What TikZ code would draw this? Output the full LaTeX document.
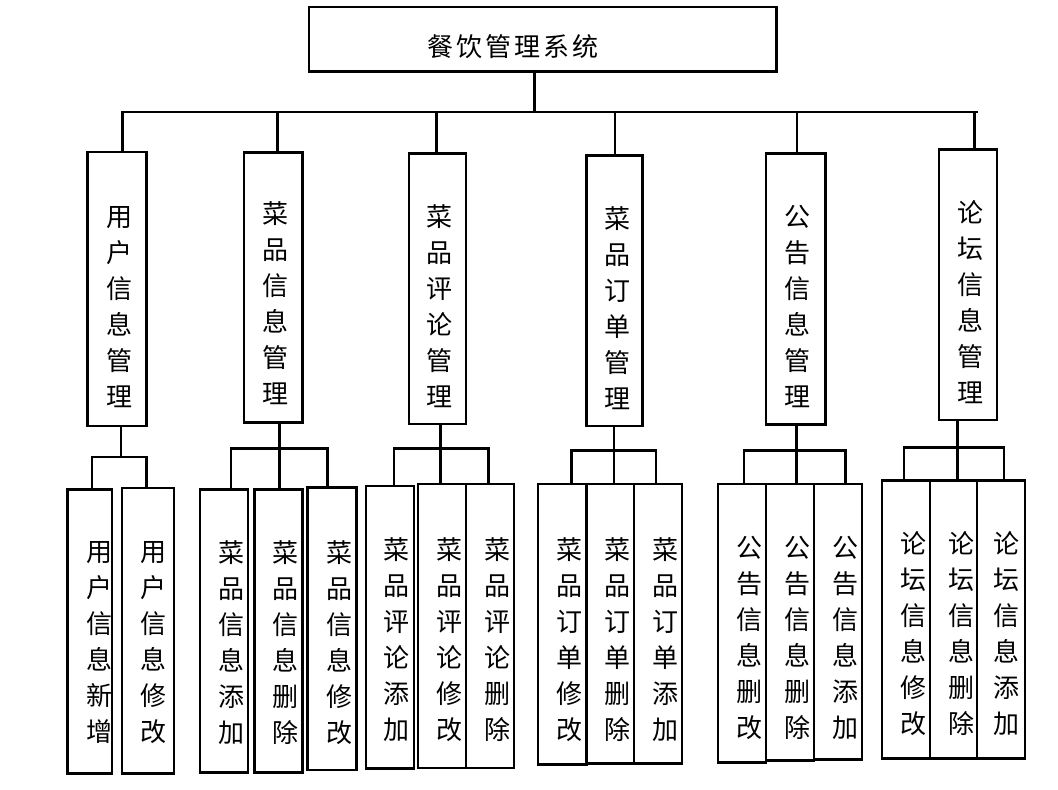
\documentclass[tikz,border=0pt]{standalone}
\usepackage{fontspec}
\newfontfamily\cjk{Noto Sans CJK SC}
\begin{document}
\begin{tikzpicture}[x=1pt,y=-1pt,
  box/.style={draw=black,line width=2.6pt,inner sep=0pt,fill=none},
  vtext/.style={align=center,inner sep=0pt,font={\cjk\fontsize{26}{36}\selectfont}},
  ttext/.style={inner sep=0pt,font={\cjk\fontsize{26}{30}\selectfont}},
  conn/.style={line width=2.6pt,line cap=rect}]
\useasboundingbox (0,0) rectangle (1058,790);
% top
\node[box,minimum width=467.5pt,minimum height=64.5pt] (top) at (542.7,39.2) {};
\node[ttext] (ttl) at (513,47) {餐\kern3pt 饮\kern3pt 管\kern3pt 理\kern3pt 系\kern3pt 统};
% level 2 boxes
\node[box,minimum width=59.4pt,minimum height=274pt] (n1) at (117,289) {};
\node[box,minimum width=58.7pt,minimum height=270pt] (n2) at (273.4,287.7) {};
\node[box,minimum width=57pt,minimum height=270.3pt] (n3) at (437.5,288.9) {};
\node[box,minimum width=55.6pt,minimum height=270.3pt] (n4) at (614.5,290.9) {};
\node[box,minimum width=59.7pt,minimum height=271pt] (n5) at (795.9,289.2) {};
\node[box,minimum width=58pt,minimum height=270.7pt] (n6) at (968,284.7) {};
\node[vtext] (t1) at (119.3,306.7) {用\\户\\信\\息\\管\\理};
\node[vtext] (t2) at (275,303.3) {菜\\品\\信\\息\\管\\理};
\node[vtext] (t3) at (439.3,306.2) {菜\\品\\评\\论\\管\\理};
\node[vtext] (t4) at (617.3,308) {菜\\品\\订\\单\\管\\理};
\node[vtext] (t5) at (797.3,306.7) {公\\告\\信\\息\\管\\理};
\node[vtext] (t6) at (970,301.7) {论\\坛\\信\\息\\管\\理};
% leaf boxes
\node[box,minimum width=44.7pt,minimum height=284pt] (a) at (89.7,631.3) {};
\node[box,minimum width=52pt,minimum height=285.3pt] (b) at (148,630.7) {};
\node[box,minimum width=48pt,minimum height=283pt] (c) at (224,630.8) {};
\node[box,minimum width=48pt,minimum height=283pt] (d) at (278.7,630.8) {};
\node[box,minimum width=49pt,minimum height=282.7pt] (e) at (332.2,628.7) {};
\node[box,minimum width=48pt,minimum height=282.7pt] (f) at (390,627.3) {};
\node[box,minimum width=48pt,minimum height=284pt] (g) at (442,626) {};
\node[box,minimum width=48pt,minimum height=284pt] (h) at (490,626) {};
\node[box,minimum width=48.3pt,minimum height=280.7pt] (i) at (562.2,624.3) {};
\node[box,minimum width=47.7pt,minimum height=279.3pt] (j) at (610.2,623.7) {};
\node[box,minimum width=48pt,minimum height=279.3pt] (k) at (658,623.7) {};
\node[box,minimum width=48pt,minimum height=278.7pt] (l) at (742,623.3) {};
\node[box,minimum width=48pt,minimum height=276.7pt] (m) at (790,622.3) {};
\node[box,minimum width=48pt,minimum height=275.3pt] (n) at (838,621.7) {};
\node[box,minimum width=48pt,minimum height=278pt] (o) at (906,619.7) {};
\node[box,minimum width=47pt,minimum height=278pt] (p) at (953.5,619.7) {};
\node[box,minimum width=48pt,minimum height=278pt] (q) at (1001,619.7) {};
% leaf texts
\node[vtext] (ta) at (99.3,642.4) {用\\户\\信\\息\\新\\增};
\node[vtext] (tb) at (153.3,642.4) {用\\户\\信\\息\\修\\改};
\node[vtext] (tc) at (231.7,642.4) {菜\\品\\信\\息\\添\\加};
\node[vtext] (td) at (285,642.4) {菜\\品\\信\\息\\删\\除};
\node[vtext] (te) at (339.3,642.4) {菜\\品\\信\\息\\修\\改};
\node[vtext] (tf) at (396.7,639.7) {菜\\品\\评\\论\\添\\加};
\node[vtext] (tg) at (449.3,639.7) {菜\\品\\评\\论\\修\\改};
\node[vtext] (th) at (497.3,639.7) {菜\\品\\评\\论\\删\\除};
\node[vtext] (ti) at (569.3,639.7) {菜\\品\\订\\单\\修\\改};
\node[vtext] (tj) at (617.3,639.7) {菜\\品\\订\\单\\删\\除};
\node[vtext] (tk) at (665.3,639.7) {菜\\品\\订\\单\\添\\加};
\node[vtext] (tl) at (749.3,638.3) {公\\告\\信\\息\\删\\改};
\node[vtext] (tm) at (797.3,638.3) {公\\告\\信\\息\\删\\除};
\node[vtext] (tn) at (845.3,638.3) {公\\告\\信\\息\\添\\加};
\node[vtext] (to) at (913.3,634) {论\\坛\\信\\息\\修\\改};
\node[vtext] (tp) at (961.3,634) {论\\坛\\信\\息\\删\\除};
\node[vtext] (tq) at (1006.7,634) {论\\坛\\信\\息\\添\\加};
% main bus
\coordinate (bm) at (534.7,112);
\coordinate (bl) at (122.6,112);
\coordinate (br) at (976.6,112);
\coordinate (d1) at (122.6,112);
\coordinate (d2) at (277.7,112);
\coordinate (d3) at (436.5,112);
\coordinate (d4) at (614.8,112);
\coordinate (d5) at (796.9,112);
\coordinate (d6) at (974.6,112);
\draw[conn] (top.south -| bm) -- (bm);
\draw[conn] (bl) -- (br);
\draw[conn] (d1) -- (d1 |- n1.north);
\draw[conn] (d2) -- (d2 |- n2.north);
\draw[conn] (d3) -- (d3 |- n3.north);
\draw[conn] (d4) -- (d4 |- n4.north);
\draw[conn] (d5) -- (d5 |- n5.north);
\draw[conn] (d6) -- (d6 |- n6.north);
% group 1
\coordinate (j1) at (121,457);
\coordinate (g1a) at (92,457);
\coordinate (g1b) at (146.7,457);
\draw[conn] (j1 |- n1.south) -- (j1);
\draw[conn] (g1a) -- (g1b);
\draw[conn] (g1a) -- (g1a |- a.north);
\draw[conn] (g1b) -- (g1b |- b.north);
% group 2
\coordinate (j2) at (279.7,448.3);
\coordinate (g2a) at (231,448.3);
\coordinate (g2c) at (327.7,448.3);
\draw[conn] (j2 |- n2.south) -- (j2);
\draw[conn] (g2a) -- (g2c);
\draw[conn] (g2a) -- (g2a |- c.north);
\draw[conn] (j2) -- (j2 |- d.north);
\draw[conn] (g2c) -- (g2c |- e.north);
% group 3
\coordinate (j3) at (440.7,448.3);
\coordinate (g3a) at (394,448.3);
\coordinate (g3c) at (488.7,448.3);
\draw[conn] (j3 |- n3.south) -- (j3);
\draw[conn] (g3a) -- (g3c);
\draw[conn] (g3a) -- (g3a |- f.north);
\draw[conn] (j3) -- (j3 |- g.north);
\draw[conn] (g3c) -- (g3c |- h.north);
% group 4
\coordinate (j4) at (614,450.7);
\coordinate (g4a) at (571.3,450.7);
\coordinate (g4c) at (656,450.7);
\draw[conn] (j4 |- n4.south) -- (j4);
\draw[conn] (g4a) -- (g4c);
\draw[conn] (g4a) -- (g4a |- i.north);
\draw[conn] (j4) -- (j4 |- j.north);
\draw[conn] (g4c) -- (g4c |- k.north);
% group 5
\coordinate (j5) at (796.7,450.7);
\coordinate (g5a) at (744,450.7);
\coordinate (g5c) at (845.7,450.7);
\draw[conn] (j5 |- n5.south) -- (j5);
\draw[conn] (g5a) -- (g5c);
\draw[conn] (g5a) -- (g5a |- l.north);
\draw[conn] (j5) -- (j5 |- m.north);
\draw[conn] (g5c) -- (g5c |- n.north);
% group 6
\coordinate (j6) at (957.7,447.7);
\coordinate (g6a) at (904,447.7);
\coordinate (g6c) at (1004,447.7);
\draw[conn] (j6 |- n6.south) -- (j6);
\draw[conn] (g6a) -- (g6c);
\draw[conn] (g6a) -- (g6a |- o.north);
\draw[conn] (j6) -- (j6 |- p.north);
\draw[conn] (g6c) -- (g6c |- q.north);
\end{tikzpicture}
\end{document}
